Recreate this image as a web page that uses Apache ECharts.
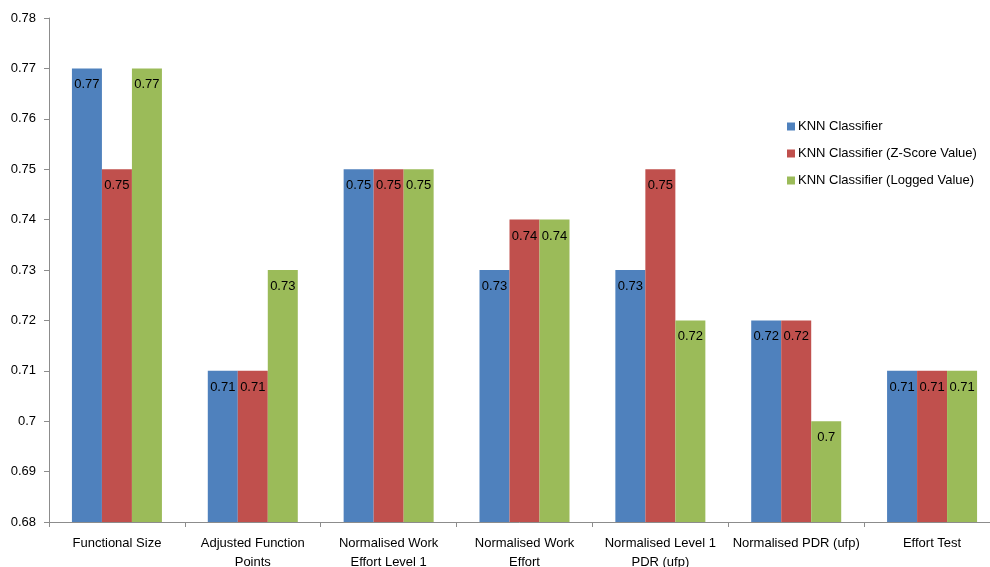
<!DOCTYPE html>
<html>
<head>
<meta charset="utf-8">
<title>KNN Classifier accuracy</title>
<script src="https://cdn.jsdelivr.net/npm/echarts@6/dist/echarts.min.js"></script>
<style>
  html, body { margin: 0; padding: 0; background: #fff; }
  #chart { width: 990px; height: 567px; }
</style>
</head>
<body>
<div id="chart"></div>
<script>
// Categories (line breaks as the axis shows them)
const categories = [
  'Functional Size',
  'Adjusted Function\nPoints',
  'Normalised Work\nEffort Level 1',
  'Normalised Work\nEffort',
  'Normalised Level 1\nPDR (ufp)',
  'Normalised PDR (ufp)',
  'Effort Test'
];

const seriesNames = [
  'KNN Classifier',
  'KNN Classifier (Z-Score Value)',
  'KNN Classifier (Logged Value)'
];

const knnPlain  = [0.77, 0.71, 0.75, 0.73, 0.73, 0.72, 0.71];
const knnZScore = [0.75, 0.71, 0.75, 0.74, 0.75, 0.72, 0.71];
const knnLogged = [0.77, 0.73, 0.75, 0.74, 0.72, 0.70, 0.71];

const colors = ['#4F81BD', '#C0504D', '#9BBB59'];
const fontFamily = 'Liberation Sans, Arial, sans-serif';
const axisGrey = '#8C8C8C';

const chart = echarts.init(document.getElementById('chart'), null, { renderer: 'canvas' });

function barSeries(name, data, idx) {
  return {
    name: name,
    type: 'bar',
    data: data,
    barWidth: 30,
    barGap: '0%',
    itemStyle: { color: colors[idx] },
    label: {
      show: true,
      position: 'insideTop',
      distance: 10,
      color: '#000',
      fontSize: 13,
      fontFamily: fontFamily
    },
    emphasis: { disabled: true }
  };
}

chart.setOption({
  animation: false,
  backgroundColor: '#fff',
  color: colors,
  // the plot runs slightly past the right edge of the canvas
  grid: { left: 49, top: 18, width: 951, bottom: 45, containLabel: false, outerBoundsMode: 'none' },
  legend: {
    orient: 'vertical',
    left: 782,
    top: 115,
    itemWidth: 8,
    itemHeight: 8,
    itemGap: 14,
    icon: 'rect',
    textStyle: { fontSize: 13, color: '#000', fontFamily: fontFamily, padding: [0, 0, 0, -2] },
    data: seriesNames
  },
  xAxis: {
    type: 'category',
    data: categories,
    axisLine: { lineStyle: { color: axisGrey, width: 1 } },
    axisTick: { show: true, length: 5, lineStyle: { color: axisGrey } },
    axisLabel: {
      interval: 0,
      margin: 12,
      fontSize: 13,
      lineHeight: 19,
      color: '#000',
      fontFamily: fontFamily
    },
    splitLine: { show: false }
  },
  yAxis: {
    type: 'value',
    min: 0.68,
    max: 0.78,
    interval: 0.01,
    axisLine: { show: true, lineStyle: { color: axisGrey, width: 1 } },
    axisTick: { show: true, length: 5, lineStyle: { color: axisGrey } },
    axisLabel: {
      margin: 13,
      fontSize: 13,
      color: '#000',
      fontFamily: fontFamily,
      formatter: v => String(Math.round(v * 100) / 100)
    },
    splitLine: { show: false }
  },
  series: [
    barSeries(seriesNames[0], knnPlain, 0),
    barSeries(seriesNames[1], knnZScore, 1),
    barSeries(seriesNames[2], knnLogged, 2)
  ]
});
</script>
</body>
</html>
